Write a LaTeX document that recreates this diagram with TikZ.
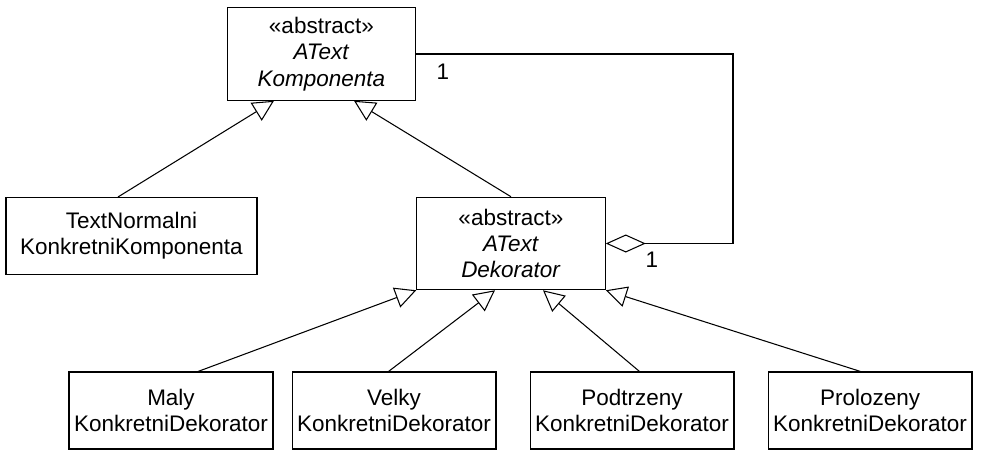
\documentclass[tikz,border=0pt]{standalone}
\usepackage{fontspec}
\setmainfont{Liberation Sans}
\usetikzlibrary{positioning}
\usetikzlibrary{arrows.meta}
\tikzstyle{abstractclass} = [rectangle, minimum width=3.77cm, minimum height=1.85cm, inner sep=0pt, text centered, align=center, draw=black, fill=white]
\tikzstyle{concreteclass} = [rectangle, minimum width=4.08cm, minimum height=1.54cm, inner sep=0pt, text centered, align=center, draw=black, fill=white]
\tikzstyle{inherit} = [-{Triangle[open,length=0.42cm,width=0.42cm]}]
\tikzstyle{aggregate} = [-{Diamond[open,length=0.8cm,width=0.36cm]}]

\begin{document}
\begin{tikzpicture}[x=0.02cm, y=-0.02cm, node distance=0.66cm, font=\fontsize{12.8}{15}\selectfont, line width=0.6pt]
        \useasboundingbox (0,0) rectangle (992,460);
        \node (komp) [abstractclass] at (321.5,54) {«abstract»\\\textit{AText}\\\textit{Komponenta}};
        \node (normal) [concreteclass, minimum width=5.02cm] at (131.5,236) {TextNormalni\\KonkretniKomponenta};
        \node (dekor) [abstractclass] at (511,243.5) {«abstract»\\\textit{AText}\\\textit{Dekorator}};
        \node (maly) [concreteclass] at (171,410.5) {Maly\\KonkretniDekorator};
        \node (velky) [concreteclass, right=0.36cm of maly] {Velky\\KonkretniDekorator};
        \node (podtrzeny) [concreteclass, right=of velky] {Podtrzeny\\KonkretniDekorator};
        \node (prolozeny) [concreteclass, right=of podtrzeny] {Prolozeny\\KonkretniDekorator};

        % agregace
        \coordinate (ohyb) at (733,150);
        \draw [aggregate] (komp.east) -| (ohyb) |- (dekor.east);
        \node (nasobnostA) at (443,72) {1};
        \node (nasobnostB) at (652,260) {1};

        % dedicnost
        \draw [inherit] ([xshift=-0.27cm]normal.north) -- ([xshift=-0.95cm]komp.south);
        \draw [inherit] (dekor.north) -- ([xshift=0.65cm]komp.south);
        \draw [inherit] ([xshift=0.54cm]maly.north) -- (dekor.south west);
        \draw [inherit] ([xshift=-0.11cm]velky.north) -- ([xshift=-0.32cm]dekor.south);
        \draw [inherit] ([xshift=0.15cm]podtrzeny.north) -- ([xshift=0.64cm]dekor.south);
        \draw [inherit] ([xshift=-0.19cm]prolozeny.north) -- (dekor.south east);
\end{tikzpicture}
\end{document}
